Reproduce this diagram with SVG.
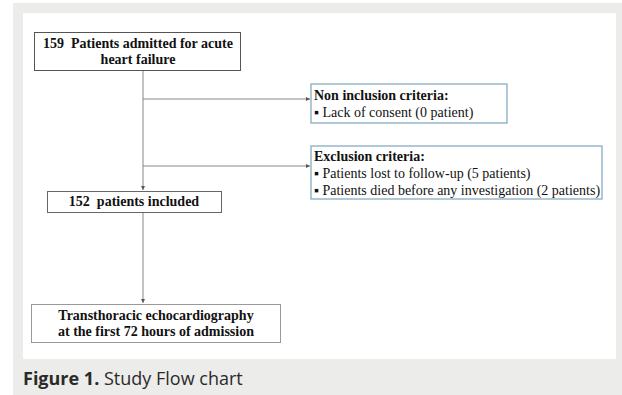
<svg xmlns="http://www.w3.org/2000/svg" width="622" height="395" viewBox="0 0 622 395">
<style>
.box{fill:#fff;stroke:#666;stroke-width:1}
.cbox{fill:#fff;stroke:#7ea6bb;stroke-width:1.2}
.bt{font-family:"Liberation Serif",serif;font-weight:bold;font-size:14px;fill:#111;white-space:pre}
.rt{font-family:"Liberation Serif",serif;font-size:14px;fill:#111}
.ln{stroke:#888;stroke-width:1;fill:none}
.cap{font-family:"Open Sans",sans-serif;font-size:18px;fill:#2a2a2a}
</style>
<defs>
<marker id="ah" viewBox="0 0 6 6" refX="6" refY="3" markerWidth="4" markerHeight="4" orient="auto">
<path d="M0,0 L6,3 L0,6 z" fill="#555"/>
</marker>
</defs>
<rect x="13" y="3" width="609" height="392" fill="#ecedeb"/>
<rect x="23" y="13" width="593" height="346" fill="#fff"/>
<g id="connectors">
<line class="ln" x1="143" y1="70" x2="143" y2="190" marker-end="url(#ah)"/>
<line class="ln" x1="143" y1="99" x2="310" y2="99" marker-end="url(#ah)"/>
<line class="ln" x1="143" y1="166" x2="310" y2="166" marker-end="url(#ah)"/>
<line class="ln" x1="143" y1="212" x2="143" y2="303" marker-end="url(#ah)"/>
</g>
<g id="n1">
<rect class="box" x="34.5" y="32.5" width="206" height="38" style="stroke:#555"/>
<text class="bt" x="138" y="48" text-anchor="middle">159  Patients admitted for acute</text>
<text class="bt" x="138" y="64" text-anchor="middle">heart failure</text>
</g>
<g id="n2">
<rect class="cbox" x="311" y="84" width="196" height="39"/>
<text class="bt" x="314" y="100">Non inclusion criteria:</text>
<text class="rt" x="314" y="117">▪ Lack of consent (0 patient)</text>
</g>
<g id="n3">
<rect class="cbox" x="311" y="146" width="291" height="53"/>
<text class="bt" x="314" y="161">Exclusion criteria:</text>
<text class="rt" x="314" y="178">▪ Patients lost to follow-up (5 patients)</text>
<text class="rt" x="314" y="195">▪ Patients died before any investigation (2 patients)</text>
</g>
<g id="n4">
<rect class="box" x="47.5" y="191.5" width="174" height="21"/>
<text class="bt" x="134" y="206" text-anchor="middle">152  patients included</text>
</g>
<g id="n5">
<rect class="box" x="31.5" y="304.5" width="249" height="38" style="stroke:#999"/>
<text class="bt" x="156" y="320" text-anchor="middle">Transthoracic echocardiography</text>
<text class="bt" x="156" y="336" text-anchor="middle">at the first 72 hours of admission</text>
</g>
<text class="cap" x="23" y="385"><tspan font-weight="bold">Figure 1.</tspan> Study Flow chart</text>
</svg>
